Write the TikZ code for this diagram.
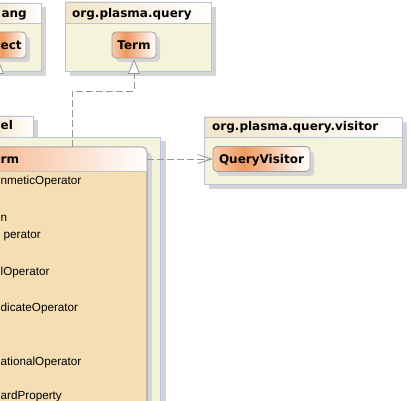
\documentclass[tikz,border=0pt]{standalone}
\usepackage{fontspec}
\newfontfamily\djv{DejaVu Sans}
\newfontfamily\lib{Liberation Sans}
\usetikzlibrary{arrows.meta}
\definecolor{pkgbodyc}{RGB}{244,243,220}
\definecolor{pkgheadc}{RGB}{243,228,200}
\definecolor{pkgline}{RGB}{184,196,220}
\definecolor{shadowc}{RGB}{212,212,212}
\definecolor{nodeline}{RGB}{158,158,158}
\definecolor{clsbody}{RGB}{245,222,179}
\definecolor{clshead}{RGB}{246,186,146}
\definecolor{orA}{RGB}{247,202,170}
\definecolor{orB}{RGB}{238,152,96}
\definecolor{orC}{RGB}{255,250,246}
\definecolor{conn}{RGB}{150,150,150}
\pgfdeclarehorizontalshading{nodeshade}{100bp}{color(0bp)=(orA); color(25bp)=(orA); color(41bp)=(orB); color(72bp)=(orC); color(100bp)=(orC)}
\tikzset{
  box/.style={rectangle, inner sep=0pt, outer sep=0pt, anchor=north west, line width=0.8pt},
  pkghead/.style={box, draw=pkgline, left color=pkgheadc, right color=white},
  pkgbody/.style={box, draw=pkgline, fill=pkgbodyc},
  shadowbox/.style={fill=shadowc, draw=none},
  clsnode/.style={box, draw=nodeline, rounded corners=4pt, shading=nodeshade},
  hdr/.style={inner sep=0pt, font=\djv\bfseries\fontsize{12}{14}\selectfont},
  item/.style={inner sep=0pt, anchor=base west, font=\lib\fontsize{11.7}{14}\selectfont},
  dep/.style={draw=conn, line width=0.8pt, dash pattern=on 7pt off 3pt},
}
\begin{document}
\begin{tikzpicture}[x=1pt,y=-1pt]
\useasboundingbox (0,0) rectangle (410,401);
% ---------- java.lang (partial) ----------
\fill[shadowc] (-5,7) rectangle (46,76);
\node[pkgbody, minimum width=51pt, minimum height=48pt] (langbody) at (-10,23) {};
\node[pkghead, minimum width=51pt, minimum height=20pt] (langhead) at (-10,3) {};
\node[hdr, anchor=base east] (langtxt) at (27,17.5) {ang};
\fill[shadowc, rounded corners=4pt] (-6,36) rectangle (30,62);
\node[clsnode, minimum width=36pt, minimum height=26pt] (obj) at (-10,32) {};
\node[hdr, anchor=base west] (objtxt) at (0.5,49.5) {ect};
\coordinate (objgen) at (-2,90);
\draw[dep, -{Triangle[length=15pt, width=12pt, fill=white, line width=0.8pt]}] (objgen) -- (-2,59);
% ---------- org.plasma.query ----------
\fill[shadowc] (70,7) rectangle (216,76);
\node[pkgbody, minimum width=146pt, minimum height=48pt] (qbody) at (65,23) {};
\node[pkghead, minimum width=146pt, minimum height=21pt] (qhead) at (65,2) {};
\node[hdr, anchor=base west] (qtxt) at (72,17.5) {org.plasma.query};
\fill[shadowc, rounded corners=4pt] (116,36) rectangle (160,62);
\node[clsnode, minimum width=44pt, minimum height=26pt] (term) at (112,32) {};
\node[hdr, anchor=base] (termtxt) at (term.center |- 0,50) {Term};
% ---------- model package (partial) ----------
\fill[shadowc] (-5,120) rectangle (38,137);
\node[pkghead, minimum width=43pt, minimum height=21pt] (mhead) at (-10,116) {};
\fill[shadowc] (-5,141) rectangle (166,440);
\node[pkgbody, minimum width=170pt, minimum height=300pt] (mbody) at (-10,137) {};
\node[hdr, anchor=base west] (mtxt) at (0.5,130) {el};
% class
\fill[shadowc, rounded corners=5pt] (-5,152) rectangle (152,440);
\node[box, draw=nodeline, fill=clsbody, rounded corners=5pt, minimum width=157pt, minimum height=290pt] (tcls) at (-10,147) {};
\shade[left color=clshead, right color=white] (-10,171) [rounded corners=5pt] -- (-10,147) -- (147,147) [sharp corners] -- (147,171) -- cycle;
\draw[nodeline, line width=0.8pt, rounded corners=5pt] (-10,440) -- (-10,147) -- (147,147) -- (147,440);
\draw[nodeline!60, line width=0.6pt] (-10,171) -- (147,171);
\node[hdr, anchor=base west] (tclstxt) at (0.5,163.5) {rm};
\node[item] (i1) at (0.5,185) {nmeticOperator};
\node[item] (i2) at (0.5,221.5) {n};
\node[item] (i3) at (3.5,239) {perator};
\node[item] (i4) at (0.5,275.5) {lOperator};
\node[item] (i5) at (0.5,311.5) {dicateOperator};
\node[item] (i6) at (0.5,365) {ationalOperator};
\node[item] (i7) at (0.5,399) {ardProperty};
% ---------- org.plasma.query.visitor ----------
\fill[shadowc] (209,122) rectangle (407,189);
\node[pkgbody, minimum width=198pt, minimum height=47pt] (vbody) at (204,137) {};
\node[pkghead, minimum width=198pt, minimum height=20pt] (vhead) at (204,117) {};
\node[hdr, anchor=base west] (vtxt) at (212,131) {org.plasma.query.visitor};
\fill[shadowc, rounded corners=4pt] (217,151) rectangle (314,176);
\node[clsnode, minimum width=97pt, minimum height=25pt] (qv) at (213,146.5) {};
\node[hdr, anchor=base] (qvtxt) at (qv.center |- 0,163.5) {QueryVisitor};
% ---------- connectors ----------
\coordinate (gen1) at (72,147);
\coordinate (bend) at (134,91);
\draw[dep, -{Triangle[length=15pt, width=12pt, fill=white, line width=0.8pt]}] (gen1) |- (bend) -- ([yshift=-1pt]term.south);
\draw[dep, -{Straight Barb[length=14pt, width=9pt, line width=0.8pt]}] (qv.west -| tcls.east) -- (qv.west);
\end{tikzpicture}
\end{document}
